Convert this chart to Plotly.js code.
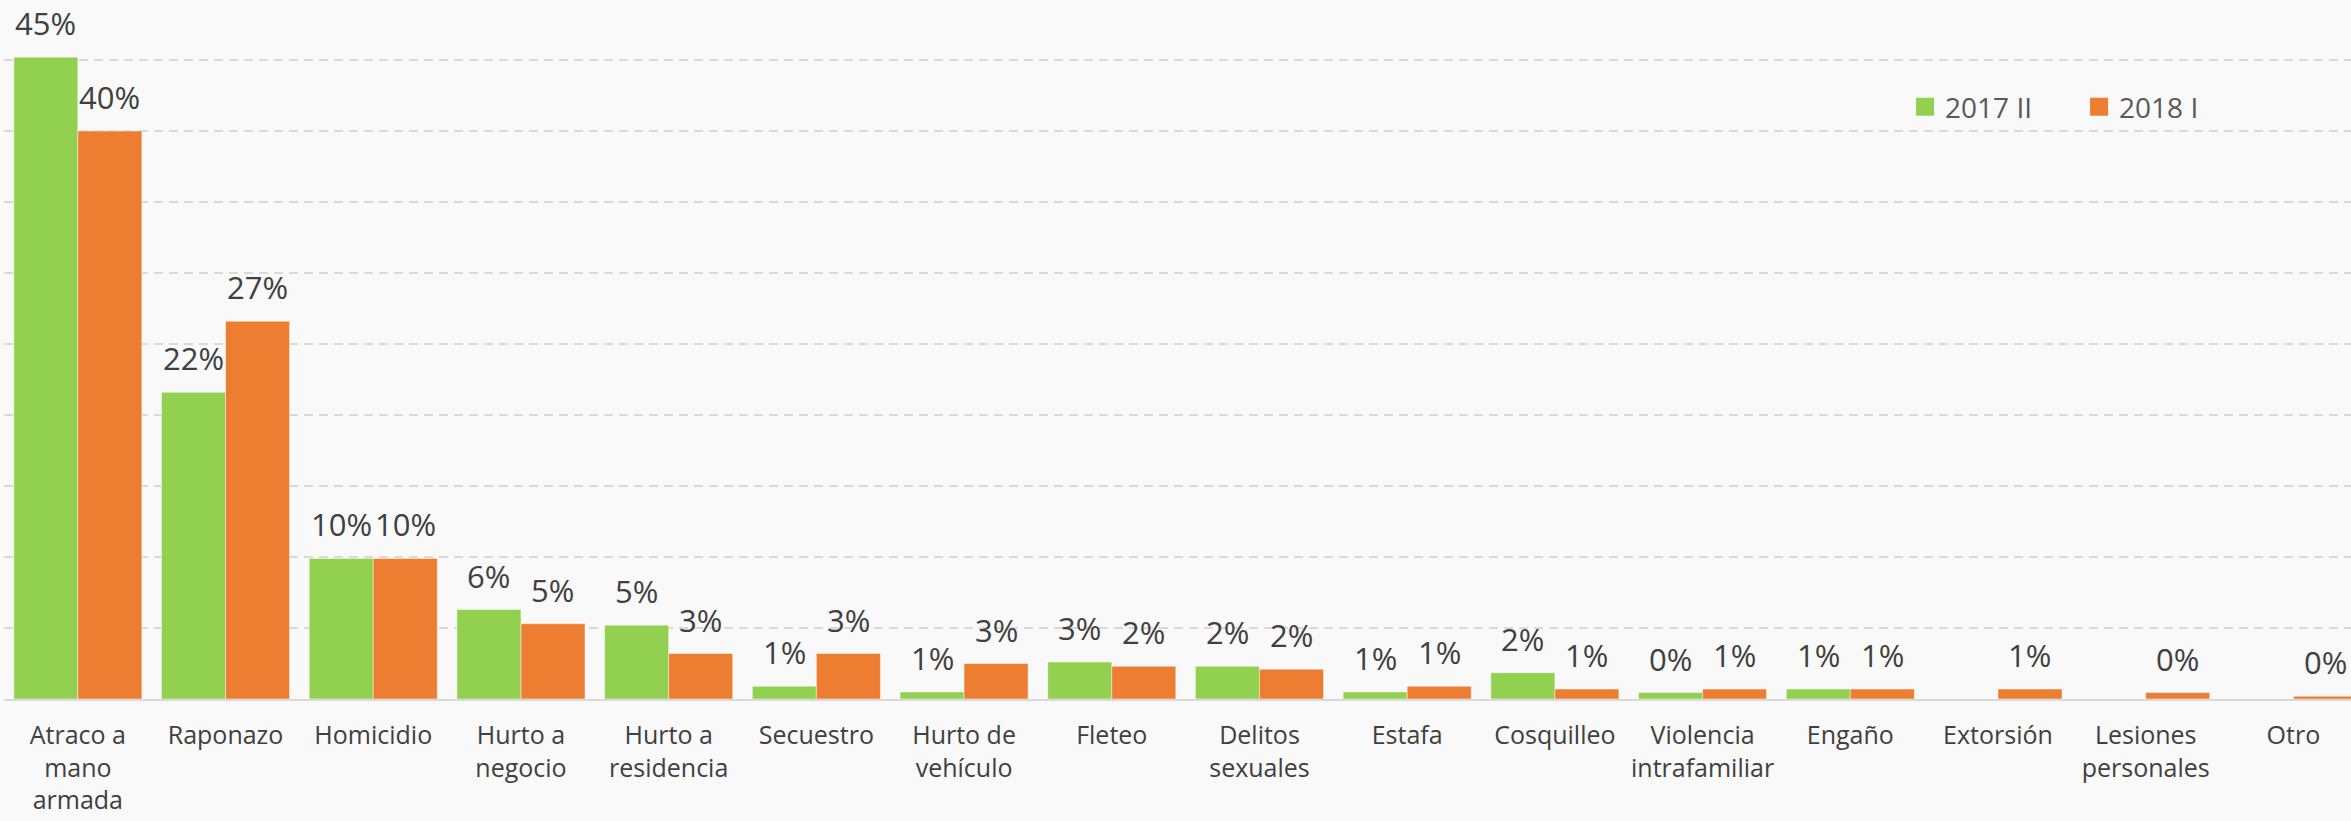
<!DOCTYPE html>
<html>
<head>
<meta charset="utf-8">
<script src="https://cdn.plot.ly/plotly-3.0.1.min.js"></script>
<style>
  html, body { margin: 0; padding: 0; background: #f9f9f9; }
  #chart { width: 2351px; height: 821px; }
</style>
</head>
<body>
<div id="chart"></div>
<script>
// ---- data ----
const categories = ["Atraco a mano armada", "Raponazo", "Homicidio", "Hurto a negocio", "Hurto a residencia",
  "Secuestro", "Hurto de vehículo", "Fleteo", "Delitos sexuales", "Estafa", "Cosquilleo",
  "Violencia intrafamiliar", "Engaño", "Extorsión", "Lesiones personales", "Otro"];
const tickLabels = ["Atraco a<br>mano<br>armada", "Raponazo", "Homicidio", "Hurto a<br>negocio", "Hurto a<br>residencia",
  "Secuestro", "Hurto de<br>vehículo", "Fleteo", "Delitos<br>sexuales", "Estafa", "Cosquilleo",
  "Violencia<br>intrafamiliar", "Engaño", "Extorsión", "Lesiones<br>personales", "Otro"];
const series2017II = [45.2, 21.6, 9.9, 6.3, 5.2, 0.9, 0.5, 2.6, 2.3, 0.5, 1.85, 0.45, 0.7, null, null, null];
const series2018I  = [40.0, 26.6, 9.9, 5.3, 3.2, 3.2, 2.5, 2.3, 2.1, 0.9, 0.7, 0.7, 0.7, 0.7, 0.45, 0.2];
const seriesNames = ["2017 II", "2018 I"];
const colors = ["#92d050", "#ed7d31"];

const FONT = "Open Sans, Noto Sans, sans-serif";

const barTraces = [series2017II, series2018I].map((vals, k) => ({
  type: "bar",
  name: seriesNames[k],
  legendgroup: seriesNames[k],
  showlegend: false,
  x: categories,
  y: vals,
  marker: { color: colors[k], line: { color: "rgba(255,255,255,0.45)", width: 1 } },
  hoverinfo: "x+y+name"
}));

// legend entries (square swatches like the original)
const legendTraces = seriesNames.map((nm, k) => ({
  type: "scatter",
  mode: "markers",
  name: nm,
  legendgroup: nm,
  x: [null], y: [null],
  marker: { symbol: "square", size: 16, color: colors[k], line: { color: colors[k], width: 2 } },
  hoverinfo: "skip"
}));

const annotations = [];
[series2017II, series2018I].forEach((vals, k) => {
  vals.forEach((v, i) => {
    if (v === null || v === undefined) return;
    annotations.push({
      xref: "x", yref: "y",
      x: categories[i], y: v,
      xshift: k === 0 ? -32 : 32,
      yshift: 11,
      yanchor: "bottom", xanchor: "center",
      showarrow: false,
      text: Math.round(v) + "%",
      font: { family: FONT, size: 31, color: "#404040" }
    });
  });
});

const layout = {
  width: 2351, height: 821,
  margin: { l: 4, r: 0, t: 0, b: 122 },
  paper_bgcolor: "#f9f9f9",
  plot_bgcolor: "#f9f9f9",
  barmode: "group",
  bargap: 0.133,
  bargroupgap: 0,
  showlegend: true,
  legend: {
    orientation: "h",
    x: 0.81, xanchor: "left",
    y: 0.847, yanchor: "middle",
    font: { family: FONT, size: 28, color: "#595959" },
    entrywidth: 129,
    bgcolor: "rgba(0,0,0,0)",
    traceorder: "normal",
    itemsizing: "trace"
  },
  xaxis: {
    type: "category",
    range: [-0.5, 15.39],
    tickvals: categories,
    ticktext: tickLabels,
    ticks: "outside", ticklen: 13, tickcolor: "rgba(0,0,0,0)",
    tickfont: { family: FONT, size: 25, color: "#404040" },
    showline: true, linecolor: "#d9d9d9", linewidth: 2,
    showgrid: false, zeroline: false,
    fixedrange: true
  },
  yaxis: {
    range: [0, 699 / 14.2],
    dtick: 5, tick0: 0,
    showticklabels: false,
    showgrid: true, gridcolor: "#d9d9d9", gridwidth: 1.5, griddash: "9px,6px",
    zeroline: false, showline: false,
    fixedrange: true
  },
  annotations: annotations
};

Plotly.newPlot("chart", barTraces.concat(legendTraces), layout, { displayModeBar: false, staticPlot: true });
</script>
</body>
</html>
